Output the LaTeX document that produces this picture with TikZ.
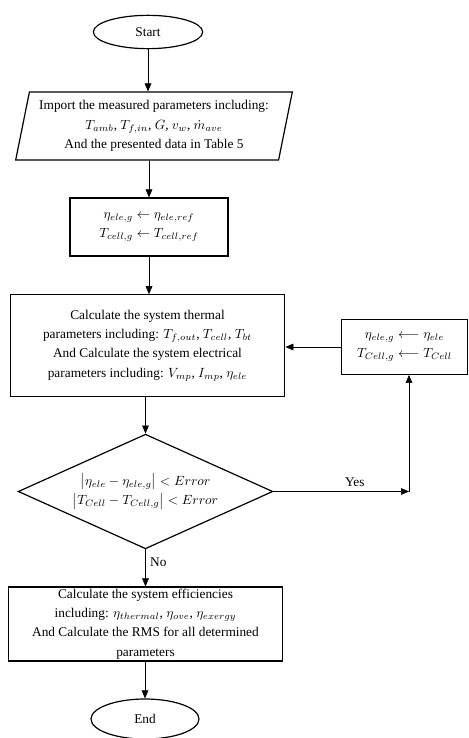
\documentclass[tikz,border=0pt]{standalone}
\usepackage{amsmath}
\usepackage{fontspec}
\setmainfont{Liberation Serif}
\usepackage{tikz}
\usetikzlibrary{shapes.geometric,arrows.meta}

\begin{document}
\begin{tikzpicture}[x=0.75pt, y=-0.75pt, >={Triangle[length=6pt,width=5pt]},
      every node/.style={font=\fontsize{10}{14.5}\selectfont, align=center},
      term/.style={draw, line width=0.9pt, ellipse, inner sep=0},
      io/.style={draw, line width=0.9pt, trapezium, trapezium left angle=76, trapezium right angle=104, trapezium stretches=true, inner sep=0},
      proc/.style={draw, line width=0.9pt, rectangle, inner sep=0},
      decision/.style={draw, line width=0.9pt, diamond, aspect=2.2, inner sep=0}]
      \useasboundingbox (0,0) rectangle (468,738);
      \node [term, minimum width=82pt, minimum height=25pt] (start) at (148,32) {Start};
      \node [io, minimum width=208pt, minimum height=51pt] (import) at (154,126) {Import the measured parameters including:\\ $T_{amb}$, $T_{f,in}$, $G$, $v_w$, $\dot{m}_{ave}$\\ And the presented data in Table 5};
      \node [proc, minimum width=118.5pt, minimum height=43.5pt] (init) at (149,227) {$\eta_{ele,g} \leftarrow \eta_{ele,ref}$\\ $T_{cell,g} \leftarrow T_{cell,ref}$};
      \node [proc, minimum width=206pt, minimum height=76pt] (calc) at (147.5,345.5) {Calculate the system thermal\\ parameters including: $T_{f,out}$, $T_{cell}$, $T_{bt}$\\ And Calculate the system electrical\\ parameters including: $V_{mp}$, $I_{mp}$, $\eta_{ele}$};
      \node [proc, minimum width=94pt, minimum height=41pt] (update) at (404.5,347) {$\eta_{ele,g} \longleftarrow \eta_{ele}$\\ $T_{Cell,g} \longleftarrow T_{Cell}$};
      \node [decision, minimum width=191pt, minimum height=86pt] (check) at (145.5,491.5) {$\bigl|\eta_{ele}-\eta_{ele,g}\bigr| < Error$\\ $\bigl|T_{Cell}-T_{Cell,g}\bigr| < Error$};
      \node [proc, minimum width=206pt, minimum height=55.5pt] (eff) at (145.5,624) {Calculate the system efficiencies\\ including: $\eta_{thermal}$, $\eta_{ove}$, $\eta_{exergy}$\\ And Calculate the RMS for all determined\\ parameters};
      \node [term, minimum width=81pt, minimum height=30pt] (stop) at (145,719) {End};
      \coordinate (corner) at (409,491.5);
      \draw [->] (start.south) -- (start.south |- import.north);
      \draw [->] (init.north |- import.south) -- (init.north);
      \draw [->] (init.south) -- (init.south |- calc.north);
      \draw [->] (calc.south -| check.north) -- (check.north);
      \draw [->] (update.west) -- (update.west -| calc.east);
      \draw [->] (check.east) -- node [above, pos=.6] {Yes} (corner);
      \draw [->] (corner) -- (corner |- update.south);
      \draw [->] (check.south) -- node [right, pos=.35] {No} (check.south |- eff.north);
      \draw [->] (eff.south -| stop.north) -- (stop.north);
\end{tikzpicture}
\end{document}
